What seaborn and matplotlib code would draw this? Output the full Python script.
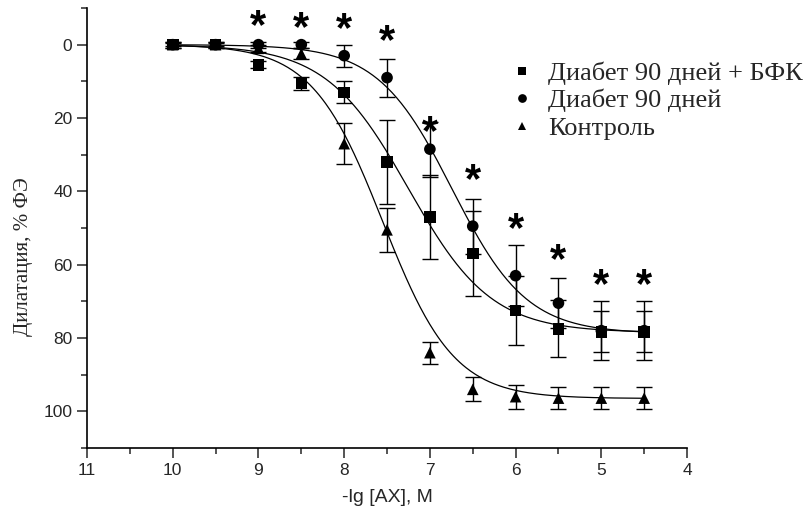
import numpy as np
import pandas as pd
import seaborn as sns
import matplotlib.pyplot as plt
from matplotlib.ticker import MultipleLocator
from matplotlib.transforms import offset_copy

sns.set_style("ticks")
plt.rcParams['font.family'] = ['Liberation Sans', 'DejaVu Sans']

# ---------------- данные ----------------
conc = [10, 9.5, 9, 8.5, 8, 7.5, 7, 6.5, 6, 5.5, 5, 4.5]

bfk_mean = [0, 0, 5.5, 10.5, 13, 32, 47, 57, 72.5, 77.5, 78.3, 78.3]
bfk_err = [0.8, 0.8, 1.0, 1.8, 3, 11.5, 11.5, 11.6, 9.5, 7.8, 5.6, 5.6]

diab_mean = [0, 0, 0, 0, 3, 9, 28.5, 49.5, 63, 70.5, 78, 78]
diab_err = [0.8, 0.8, 0.8, 0.8, 3, 5.2, 7.5, 7.5, 8.4, 6.8, 8, 8]

ctrl_mean = [0, 0, 1, 2.5, 27, 50.5, 84, 94, 96, 96.4, 96.4, 96.4]
ctrl_err = [0.5, 0.5, 1, 1.5, 5.5, 6, 3, 3.3, 3.3, 3, 3, 3]

labels = ["Диабет 90 дней + БФК", "Диабет 90 дней", "Контроль"]

# параметры сигмоидальной аппроксимации: (плато, -lg EC50, наклон)
fit_bfk = (78.5, 7.25, 0.9)
fit_diab = (78.8, 6.74, 1.0)
fit_ctrl = (96.5, 7.55, 1.05)

# звездочки (достоверность)
star_x = [9, 8.5, 8, 7.5, 7, 6.5, 6, 5.5, 5, 4.5]
star_y = [-6.3, -5.8, -5.4, -2.2, 22.6, 35.7, 49, 57.5, 64.3, 64.3]

# ---------------- рисунок ----------------
fig = plt.figure(figsize=(8.08, 5.19), dpi=100)
ax = fig.add_axes([0.1077, 0.1368, 0.7426, 0.8478])

x_fit = np.linspace(10, 4.5, 300)
for top, x50, n in [fit_bfk, fit_diab, fit_ctrl]:
    y_fit = top / (1 + 10 ** (n * (x_fit - x50)))
    sns.lineplot(x=x_fit, y=y_fit, color="black", lw=0.9, ax=ax)

for mean, err in [(bfk_mean, bfk_err), (diab_mean, diab_err), (ctrl_mean, ctrl_err)]:
    ax.errorbar(conc, mean, yerr=err, fmt="none", ecolor="black",
                elinewidth=1.0, capsize=6, capthick=1.0)

df = pd.DataFrame({
    "x": conc * 3,
    "y": bfk_mean + diab_mean + ctrl_mean,
    "group": [labels[0]] * 12 + [labels[1]] * 12 + [labels[2]] * 12,
})
sns.scatterplot(data=df, x="x", y="y", style="group",
                markers={labels[0]: "s", labels[1]: "o", labels[2]: "^"},
                color="black", s=70, linewidth=0, ax=ax, zorder=5)

star_tr = offset_copy(ax.transData, fig=fig, x=0, y=-4, units="points")
for sx, sy in zip(star_x, star_y):
    ax.text(sx, sy, "*", fontsize=30, fontweight="bold", ha="center",
            va="center", color="black", transform=star_tr)

ax.set_xlim(11, 4)
ax.set_ylim(110, -10)
ax.xaxis.set_major_locator(MultipleLocator(1))
ax.xaxis.set_minor_locator(MultipleLocator(0.5))
ax.yaxis.set_minor_locator(MultipleLocator(10))
ax.set_yticks([0, 20, 40, 60, 80, 100])
ax.tick_params(which="major", length=7, width=1.1, labelsize=12.5, direction="out")
ax.tick_params(which="minor", length=4, width=1.1, direction="out")
sns.despine(ax=ax)
for sp in ["left", "bottom"]:
    ax.spines[sp].set_linewidth(1.2)
    ax.spines[sp].set_color("black")

ax.set_xlabel("-lg [AX], M", fontsize=14, labelpad=8)
ax.set_ylabel("Дилатация, % ФЭ", fontsize=15, family="Liberation Serif")
ax.yaxis.set_label_coords(-0.09, 0.434)

handles, labs = ax.get_legend_handles_labels()
ax.legend(handles, labs, loc="upper left", bbox_to_anchor=(0.62, 0.907),
          bbox_transform=fig.transFigure, frameon=False,
          prop={"family": "Liberation Serif", "size": 19},
          handlelength=0.6, handletextpad=0.7, labelspacing=0.15,
          borderpad=0, markerscale=0.75)

fig.savefig("out.png", dpi=100)
